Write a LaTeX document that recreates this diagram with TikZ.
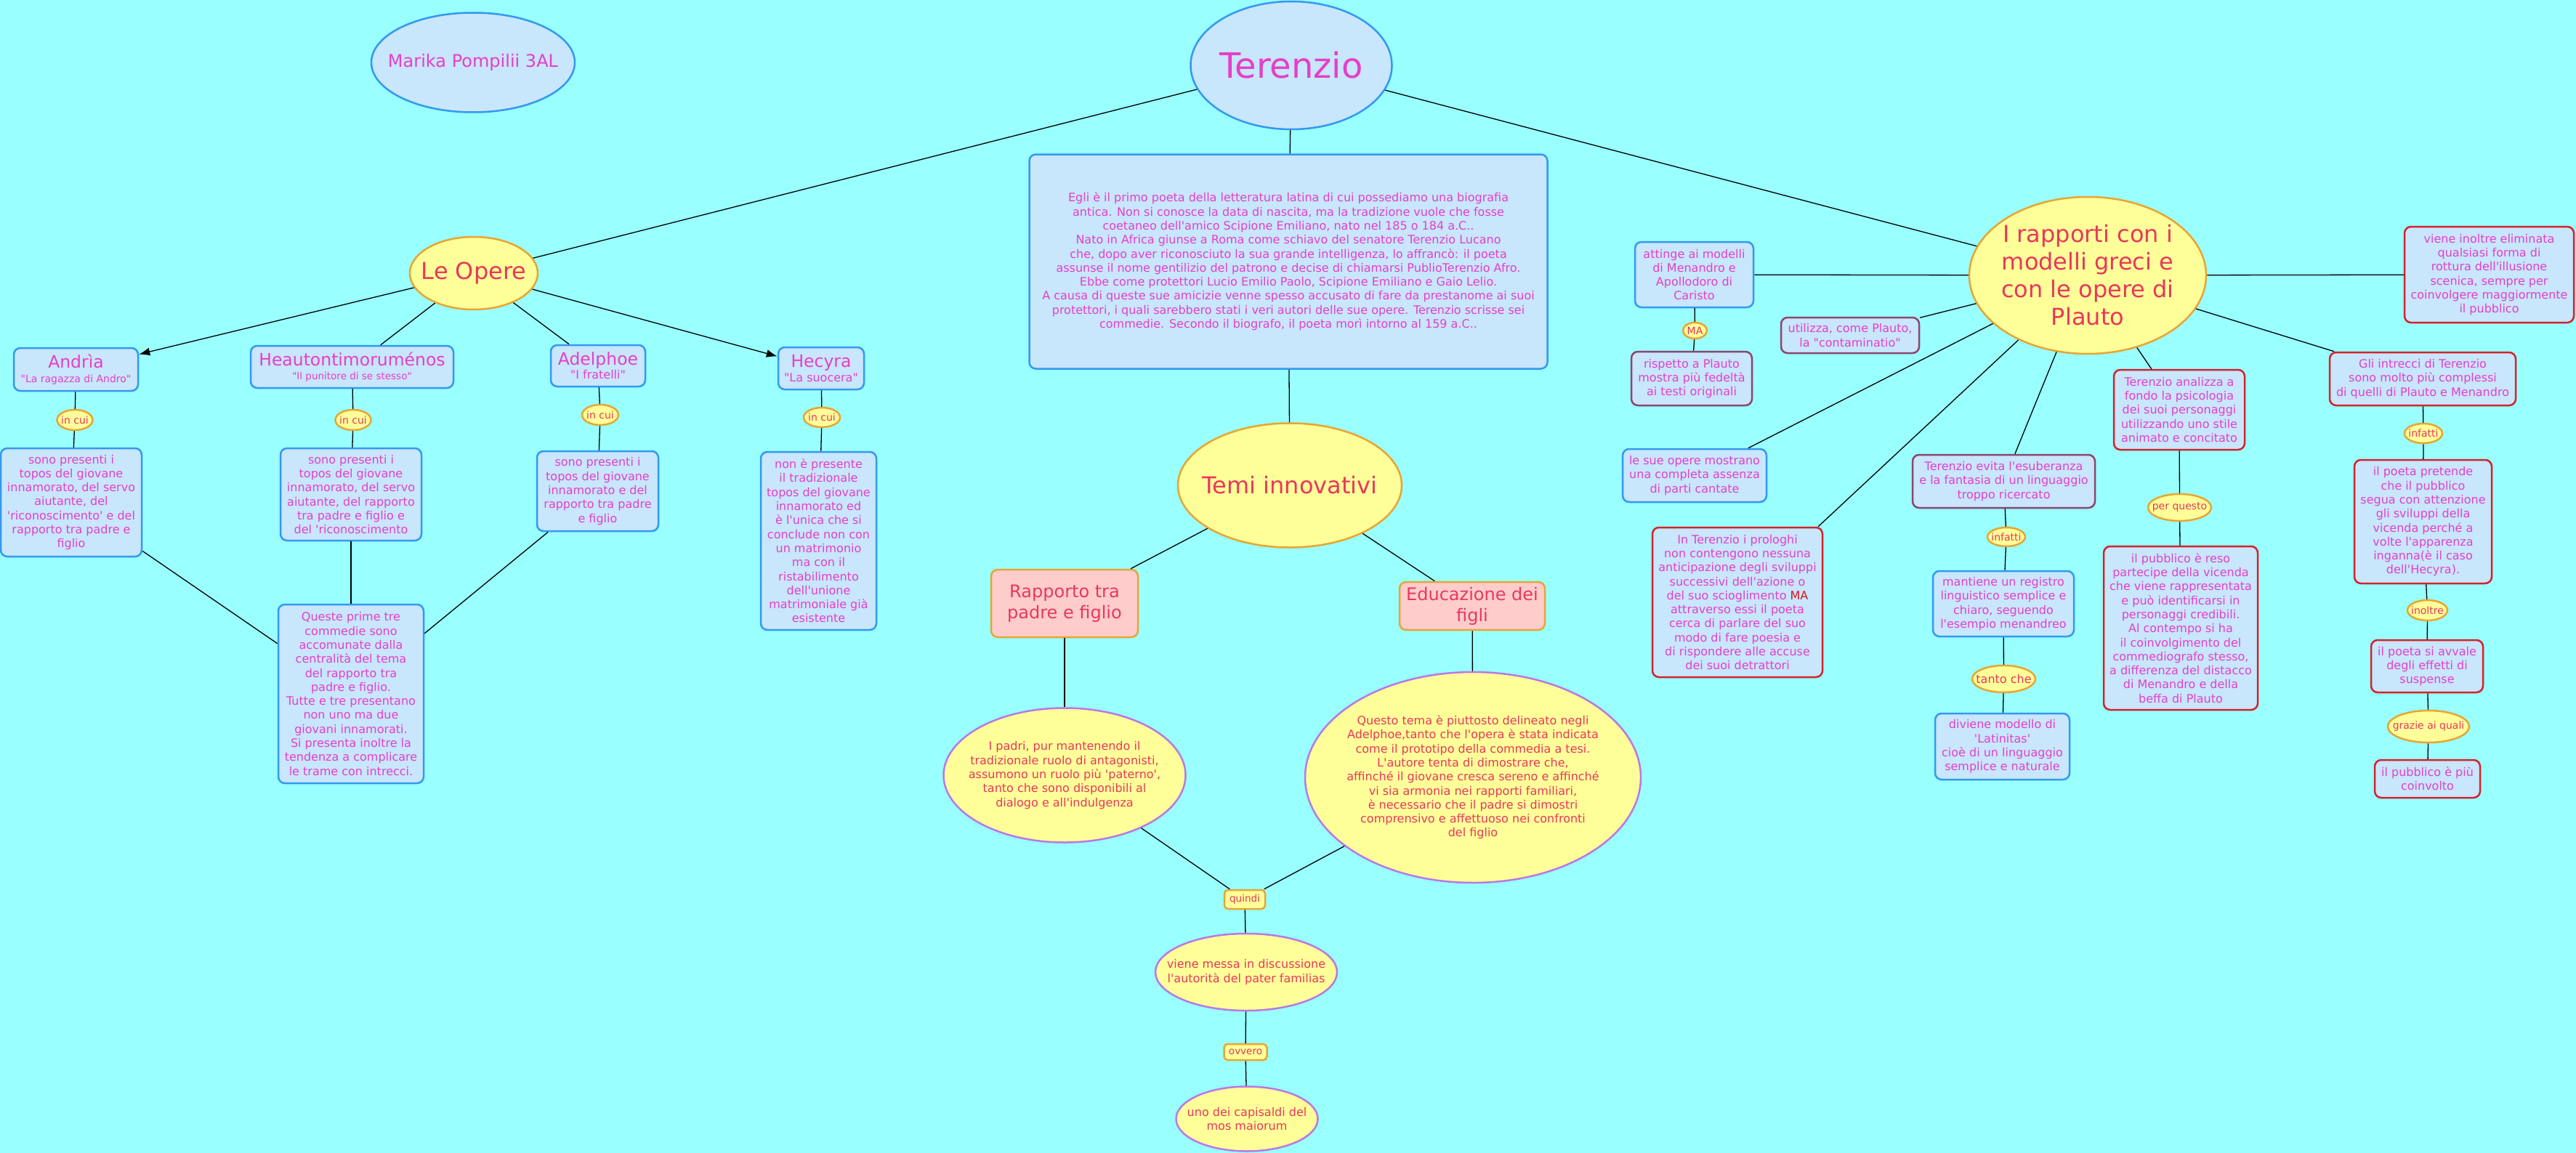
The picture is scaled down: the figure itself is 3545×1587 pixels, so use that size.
\documentclass[tikz,border=0pt]{standalone}
\usepackage{fontspec}
\setmainfont{DejaVu Sans}[Ligatures=TeXOff]
\usetikzlibrary{shapes.geometric,arrows.meta}
\definecolor{bgc}{RGB}{153,255,255}
\definecolor{boxf}{RGB}{200,230,252}
\definecolor{blueb}{RGB}{51,153,238}
\definecolor{yellf}{RGB}{255,255,153}
\definecolor{orab}{RGB}{232,165,50}
\definecolor{pinkf}{RGB}{255,204,204}
\definecolor{purpb}{RGB}{185,120,230}
\definecolor{redb}{RGB}{210,35,45}
\definecolor{plumb}{RGB}{140,70,110}
\definecolor{magt}{RGB}{229,63,200}
\definecolor{redt}{RGB}{232,55,93}
\definecolor{mared}{RGB}{215,20,30}
\newcommand\fs[2]{\fontsize{#1}{#2}\selectfont}
\tikzset{
  base/.style={align=center, inner sep=0pt, line width=2.5pt},
  ell/.style={base, ellipse, inner sep=-400pt},
  txt/.style={font=\fs{16}{19.3}},
  sz/.style 2 args={minimum width=#1pt, minimum height=#2pt},
  bbox/.style={base, txt, rectangle, rounded corners=9pt, draw=blueb, fill=boxf, text=magt},
  rbox/.style={bbox, draw=redb},
  pbox/.style={bbox, draw=plumb},
  yell/.style={ell, txt, draw=purpb, fill=yellf, text=redt},
  bigy/.style={ell, draw=orab, fill=yellf, text=redt},
  bige/.style={ell, draw=blueb, fill=boxf, text=magt},
  pinkbox/.style={base, rectangle, rounded corners=9pt, draw=orab, fill=pinkf, text=redt, font=\fs{24}{29}},
  lab/.style={ell, draw=orab, fill=yellf, text=redt, font=\fs{14}{16}},
  labr/.style={base, rectangle, rounded corners=5pt, draw=orab, fill=yellf, text=redt, font=\fs{13.5}{16}},
  conn/.style={line width=1.3pt, draw=black},
  arr/.style={conn, -{Latex[length=15pt,width=11pt]}}
}
\begin{document}
\begin{tikzpicture}[x=1pt,y=-1pt]
\useasboundingbox (0,0) rectangle (3545,1587);
\fill[bgc] (0,0) rectangle (3545,1587);

% top
\node[bige, sz={280}{137}, font=\fs{24}{28}] (marika) at (651,86) {Marika Pompilii 3AL};
\node[bige, sz={277}{176}, font=\fs{48}{56}] (terenzio) at (1777,90) {Terenzio};
\node[bigy, sz={176}{100}, font=\fs{32}{38}] (leopere) at (652,376) {Le Opere};
\node[bbox, sz={713}{295}] (bio) at (1773,360) {Egli è il primo poeta della letteratura latina di cui possediamo una biografia\\
antica. Non si conosce la data di nascita, ma la tradizione vuole che fosse\\
coetaneo dell'amico Scipione Emiliano, nato nel 185 o 184 a.C..\\
Nato in Africa giunse a Roma come schiavo del senatore Terenzio Lucano\\
che, dopo aver riconosciuto la sua grande intelligenza, lo affrancò: il poeta\\
assunse il nome gentilizio del patrono e decise di chiamarsi PublioTerenzio Afro.\\
Ebbe come protettori Lucio Emilio Paolo, Scipione Emiliano e Gaio Lelio.\\
A causa di queste sue amicizie venne spesso accusato di fare da prestanome ai suoi\\
protettori, i quali sarebbero stati i veri autori delle sue opere. Terenzio scrisse sei\\
commedie. Secondo il biografo, il poeta morì intorno al 159 a.C..};

% Le opere branch
\node[bbox, sz={171}{59}] (andria) at (104.5,508.5) {\fs{23.5}{19}Andrìa\\\fs{14}{19}"La ragazza di Andro"};
\node[lab, sz={49}{28}] (andriacui) at (103,578) {in cui};
\node[bbox, sz={194}{149}] (andriac) at (98,691.5) {sono presenti i\\topos del giovane\\innamorato, del servo\\aiutante, del\\'riconoscimento' e del\\rapporto tra padre e\\figlio};
\node[bbox, sz={279}{58}] (heau) at (484.5,505) {\fs{23.5}{19}Heautontimoruménos\\\fs{13.5}{19}"Il punitore di se stesso"};
\node[lab, sz={49}{28}] (heaucui) at (486,578) {in cui};
\node[bbox, sz={194}{127}] (heauc) at (483,680.5) {sono presenti i\\topos del giovane\\innamorato, del servo\\aiutante, del rapporto\\tra padre e figlio e\\del 'riconoscimento};
\node[bbox, sz={130}{57}] (adel) at (823,503.5) {\fs{23.5}{19}Adelphoe\\\fs{16}{19}"I fratelli"};
\node[lab, sz={50}{28}] (adelcui) at (826,571) {in cui};
\node[bbox, sz={167}{110}] (adelc) at (822.5,676) {sono presenti i\\topos del giovane\\innamorato e del\\rapporto tra padre\\e figlio};
\node[bbox, sz={118}{58}] (hecyra) at (1130,507) {\fs{23.5}{19}Hecyra\\\fs{16}{19}"La suocera"};
\node[lab, sz={50}{27}] (hecycui) at (1131,574.5) {in cui};
\node[bbox, sz={159}{245}] (hecyc) at (1126.5,744.5) {non è presente\\il tradizionale\\topos del giovane\\innamorato ed\\è l'unica che si\\conclude non con\\un matrimonio\\ma con il\\ristabilimento\\dell'unione\\matrimoniale già\\esistente};
\node[bbox, sz={200}{246}] (queste) at (483,955) {Queste prime tre\\commedie sono\\accomunate dalla\\centralità del tema\\del rapporto tra\\padre e figlio.\\Tutte e tre presentano\\non uno ma due\\giovani innamorati.\\Si presenta inoltre la\\tendenza a complicare\\le trame con intrecci.};

% temi innovativi
\node[bigy, sz={308}{171}, font=\fs{32}{38}] (temi) at (1775,668) {Temi innovativi};
\node[pinkbox, sz={202}{93}] (rapporto) at (1465,830.5) {Rapporto tra\\padre e figlio};
\node[pinkbox, sz={200}{66}] (educ) at (2026,834) {Educazione dei\\figli};
\node[yell, sz={333}{185}] (ipadri) at (1465,1067) {I padri, pur mantenendo il\\tradizionale ruolo di antagonisti,\\assumono un ruolo più 'paterno',\\tanto che sono disponibili al\\dialogo e all'indulgenza};
\node[yell, sz={462}{290}] (questo) at (2027,1070) {Questo tema è piuttosto delineato negli\\Adelphoe,tanto che l'opera è stata indicata\\come il prototipo della commedia a tesi.\\L'autore tenta di dimostrare che,\\affinché il giovane cresca sereno e affinché\\vi sia armonia nei rapporti familiari,\\è necessario che il padre si dimostri\\comprensivo e affettuoso nei confronti\\del figlio};
\node[labr, sz={56}{26}] (quindi) at (1713,1238) {quindi};
\node[yell, sz={250}{106}] (viene) at (1715,1338) {viene messa in discussione\\l'autorità del pater familias};
\node[labr, sz={59}{22}] (ovvero) at (1714,1448) {ovvero};
\node[yell, sz={195}{89}] (uno) at (1716,1540) {uno dei capisaldi del\\mos maiorum};

% rapporti branch
\node[bigy, sz={326}{216}, font=\fs{32}{38}] (rapporti) at (2873,379) {I rapporti con i\\modelli greci e\\con le opere di\\Plauto};
\node[bbox, sz={163}{90}] (attinge) at (2331.5,378) {attinge ai modelli\\di Menandro e\\Apollodoro di\\Caristo};
\node[lab, sz={33}{22}] (ma) at (2332.5,455) {MA};
\node[pbox, sz={166}{74}] (rispetto) at (2328,521) {rispetto a Plauto\\mostra più fedeltà\\ai testi originali};
\node[pbox, sz={190}{49}] (utilizza) at (2546,461.5) {utilizza, come Plauto,\\la "contaminatio"};
\node[bbox, sz={198}{73}] (lesue) at (2332,654.5) {le sue opere mostrano\\una completa assenza\\di parti cantate};
\node[rbox, sz={234}{206}] (interenzio) at (2391,829) {In Terenzio i prologhi\\non contengono nessuna\\anticipazione degli sviluppi\\successivi dell'azione o\\del suo scioglimento \textcolor{mared}{MA}\\attraverso essi il poeta\\cerca di parlare del suo\\modo di fare poesia e\\di rispondere alle accuse\\dei suoi detrattori};
\node[pbox, sz={251}{73}] (evita) at (2757.5,662.5) {Terenzio evita l'esuberanza\\e la fantasia di un linguaggio\\troppo ricercato};
\node[lab, sz={52}{26}] (infatti1) at (2761,739) {infatti};
\node[bbox, sz={194}{90}] (mantiene) at (2757,831) {mantiene un registro\\linguistico semplice e\\chiaro, seguendo\\l'esempio menandreo};
\node[lab, sz={87}{37}, font=\fs{16}{18}] (tantoche) at (2757.5,934.5) {tanto che};
\node[bbox, sz={185}{91}] (diviene) at (2755.5,1027.5) {diviene modello di\\'Latinitas'\\cioè di un linguaggio\\semplice e naturale};
\node[rbox, sz={180}{110}] (analizza) at (2999,564) {Terenzio analizza a\\fondo la psicologia\\dei suoi personaggi\\utilizzando uno stile\\animato e concitato};
\node[lab, sz={87}{37}] (perquesto) at (2999.5,698.5) {per questo};
\node[rbox, sz={212}{225}] (pubblico) at (3001,864.5) {il pubblico è reso\\partecipe della vicenda\\che viene rappresentata\\e può identificarsi in\\personaggi credibili.\\Al contempo si ha\\il coinvolgimento del\\commediografo stesso,\\a differenza del distacco\\di Menandro e della\\beffa di Plauto};
\node[rbox, sz={233}{132}] (eliminata) at (3425.5,378) {viene inoltre eliminata\\qualsiasi forma di\\rottura dell'illusione\\scenica, sempre per\\coinvolgere maggiormente\\il pubblico};
\node[rbox, sz={256}{73}] (intrecci) at (3334,521.5) {Gli intrecci di Terenzio\\sono molto più complessi\\di quelli di Plauto e Menandro};
\node[lab, sz={52}{27}] (infatti2) at (3335,596.5) {infatti};
\node[rbox, sz={189}{170}] (pretende) at (3334.5,718) {il poeta pretende\\che il pubblico\\segua con attenzione\\gli sviluppi della\\vicenda perché a\\volte l'apparenza\\inganna(è il caso\\dell'Hecyra).};
\node[lab, sz={55}{28}] (inoltre) at (3340.5,840) {inoltre};
\node[rbox, sz={154}{72}] (avvale) at (3340,917) {il poeta si avvale\\degli effetti di\\suspense};
\node[lab, sz={112}{44}] (grazie) at (3342,1000) {grazie ai quali};
\node[rbox, sz={145}{52}] (coinvolto) at (3340.5,1072) {il pubblico è più\\coinvolto};

% connectors
\draw[conn] (terenzio) -- (leopere);
\draw[conn] (terenzio) -- (bio);
\draw[conn] (terenzio) -- (rapporti);
\draw[conn] (bio) -- (temi);
\draw[arr] (leopere) -- (andria);
\draw[conn] (leopere) -- (heau);
\draw[conn] (leopere) -- (adel);
\draw[arr] (leopere) -- (hecyra);
\draw[conn] (andria) -- (andriacui);
\draw[conn] (andriacui) -- (andriac);
\draw[conn] (heau) -- (heaucui);
\draw[conn] (heaucui) -- (heauc);
\draw[conn] (adel) -- (adelcui);
\draw[conn] (adelcui) -- (adelc);
\draw[conn] (hecyra) -- (hecycui);
\draw[conn] (hecycui) -- (hecyc);
\draw[conn] (andriac) -- (queste);
\draw[conn] (heauc) -- (queste);
\draw[conn] (adelc) -- (queste);
\draw[conn] (temi) -- (rapporto);
\draw[conn] (temi) -- (educ);
\draw[conn] (rapporto) -- (ipadri);
\draw[conn] (educ) -- (questo);
\draw[conn] (ipadri) -- (quindi);
\draw[conn] (questo) -- (quindi);
\draw[conn] (quindi) -- (viene);
\draw[conn] (viene) -- (ovvero);
\draw[conn] (ovvero) -- (uno);
\draw[conn] (rapporti) -- (attinge);
\draw[conn] (attinge) -- (ma);
\draw[conn] (ma) -- (rispetto);
\draw[conn] (rapporti) -- (utilizza);
\draw[conn] (rapporti) -- (lesue);
\draw[conn] (rapporti) -- (interenzio);
\draw[conn] (rapporti) -- (evita);
\draw[conn] (evita) -- (infatti1);
\draw[conn] (infatti1) -- (mantiene);
\draw[conn] (mantiene) -- (tantoche);
\draw[conn] (tantoche) -- (diviene);
\draw[conn] (rapporti) -- (analizza);
\draw[conn] (analizza) -- (perquesto);
\draw[conn] (perquesto) -- (pubblico);
\draw[conn] (rapporti) -- (eliminata);
\draw[conn] (rapporti) -- (intrecci);
\draw[conn] (intrecci) -- (infatti2);
\draw[conn] (infatti2) -- (pretende);
\draw[conn] (pretende) -- (inoltre);
\draw[conn] (inoltre) -- (avvale);
\draw[conn] (avvale) -- (grazie);
\draw[conn] (grazie) -- (coinvolto);
\end{tikzpicture}
\end{document}
